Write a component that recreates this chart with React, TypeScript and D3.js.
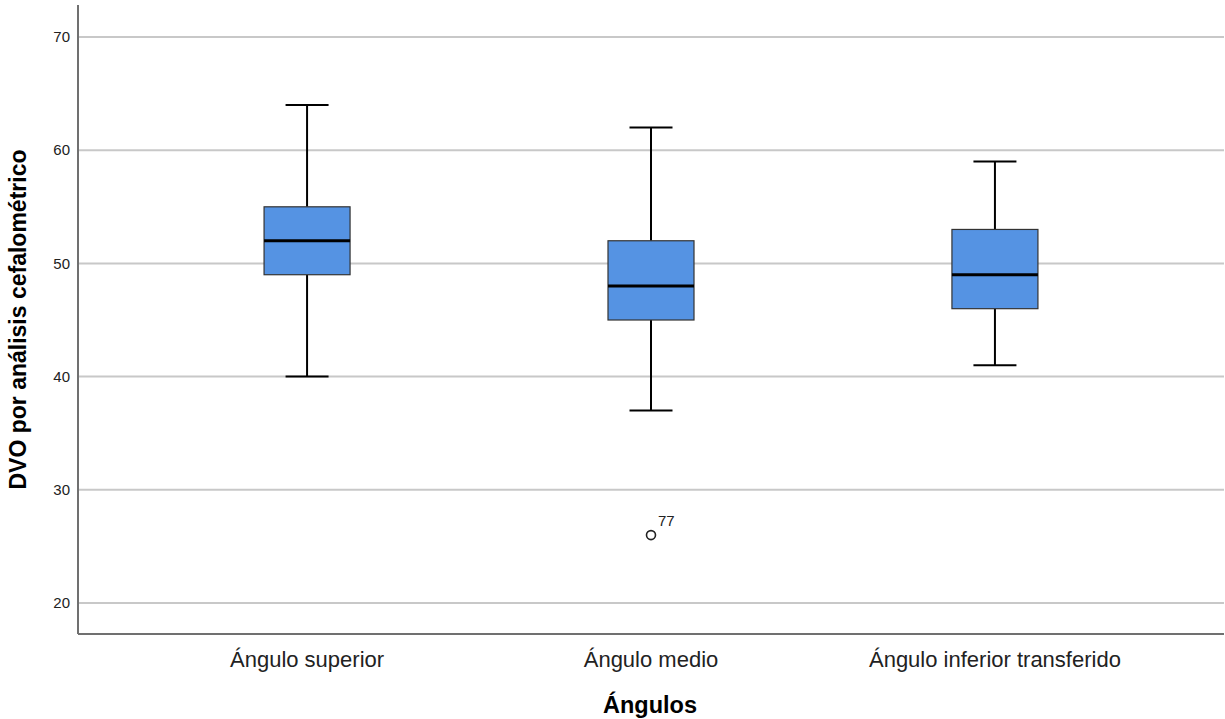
import React from "react";
import * as d3 from "d3";

const categories = ["Ángulo superior", "Ángulo medio", "Ángulo inferior transferido"];
const q1 = [49, 45, 46];
const medians = [52, 48, 49];
const q3 = [55, 52, 53];
const whiskerLow = [40, 37, 41];
const whiskerHigh = [64, 62, 59];
const outliers = [{ cat: 1, value: 26, label: "77" }];
const yTicks = [20, 30, 40, 50, 60, 70];

const W = 1225;
const H = 719;
const left = 78;
const right = 1224;
const top = 5;
const bottom = 634;

export default function App() {
  const y = d3.scaleLinear().domain([20, 70]).range([603, 37]);
  const x = d3.scalePoint<string>().domain(categories).range([left, right]).padding(0.666);
  const boxW = 86;
  const capW = 43;
  return (
    <svg width={W} height={H} style={{ position: "absolute", left: 0, top: 0 }} fontFamily="'Liberation Sans', Arial, sans-serif">
      <rect width={W} height={H} fill="#fff" />
      {yTicks.map((t) => (
        <g key={t}>
          <line x1={left} x2={right} y1={y(t)} y2={y(t)} stroke="#c8c8c8" strokeWidth={2} />
          <text x={70} y={y(t)} dy="0.35em" textAnchor="end" fontSize={15} fill="#222">{t}</text>
        </g>
      ))}
      <line x1={left} x2={left} y1={top} y2={bottom} stroke="#707070" strokeWidth={2} />
      <line x1={left} x2={right} y1={bottom} y2={bottom} stroke="#707070" strokeWidth={2} />
      {categories.map((c, i) => {
        const cx = x(c)!;
        return (
          <g key={c}>
            <line x1={cx} x2={cx} y1={y(whiskerHigh[i])} y2={y(q3[i])} stroke="#000" strokeWidth={2} />
            <line x1={cx} x2={cx} y1={y(q1[i])} y2={y(whiskerLow[i])} stroke="#000" strokeWidth={2} />
            <line x1={cx - capW / 2} x2={cx + capW / 2} y1={y(whiskerHigh[i])} y2={y(whiskerHigh[i])} stroke="#000" strokeWidth={2} />
            <line x1={cx - capW / 2} x2={cx + capW / 2} y1={y(whiskerLow[i])} y2={y(whiskerLow[i])} stroke="#000" strokeWidth={2} />
            <rect x={cx - boxW / 2} y={y(q3[i])} width={boxW} height={y(q1[i]) - y(q3[i])} fill="#5593e3" stroke="#333" strokeWidth={1.2} />
            <line x1={cx - boxW / 2} x2={cx + boxW / 2} y1={y(medians[i])} y2={y(medians[i])} stroke="#000" strokeWidth={3} />
            <text x={cx} y={667} textAnchor="middle" fontSize={22} fill="#222">{c}</text>
          </g>
        );
      })}
      {outliers.map((o) => {
        const cx = x(categories[o.cat])!;
        return (
          <g key={o.label}>
            <circle cx={cx} cy={y(o.value)} r={4.5} fill="none" stroke="#222" strokeWidth={1.6} />
            <text x={cx + 7} y={y(o.value) - 9} fontSize={15} fill="#222">{o.label}</text>
          </g>
        );
      })}
      <text x={650} y={713} textAnchor="middle" fontSize={23.5} fontWeight="bold" fill="#000">Ángulos</text>
      <text transform={`translate(26,${(top + bottom) / 2}) rotate(-90)`} textAnchor="middle" fontSize={23} fontWeight="bold" fill="#000">DVO por análisis cefalométrico</text>
    </svg>
  );
}
